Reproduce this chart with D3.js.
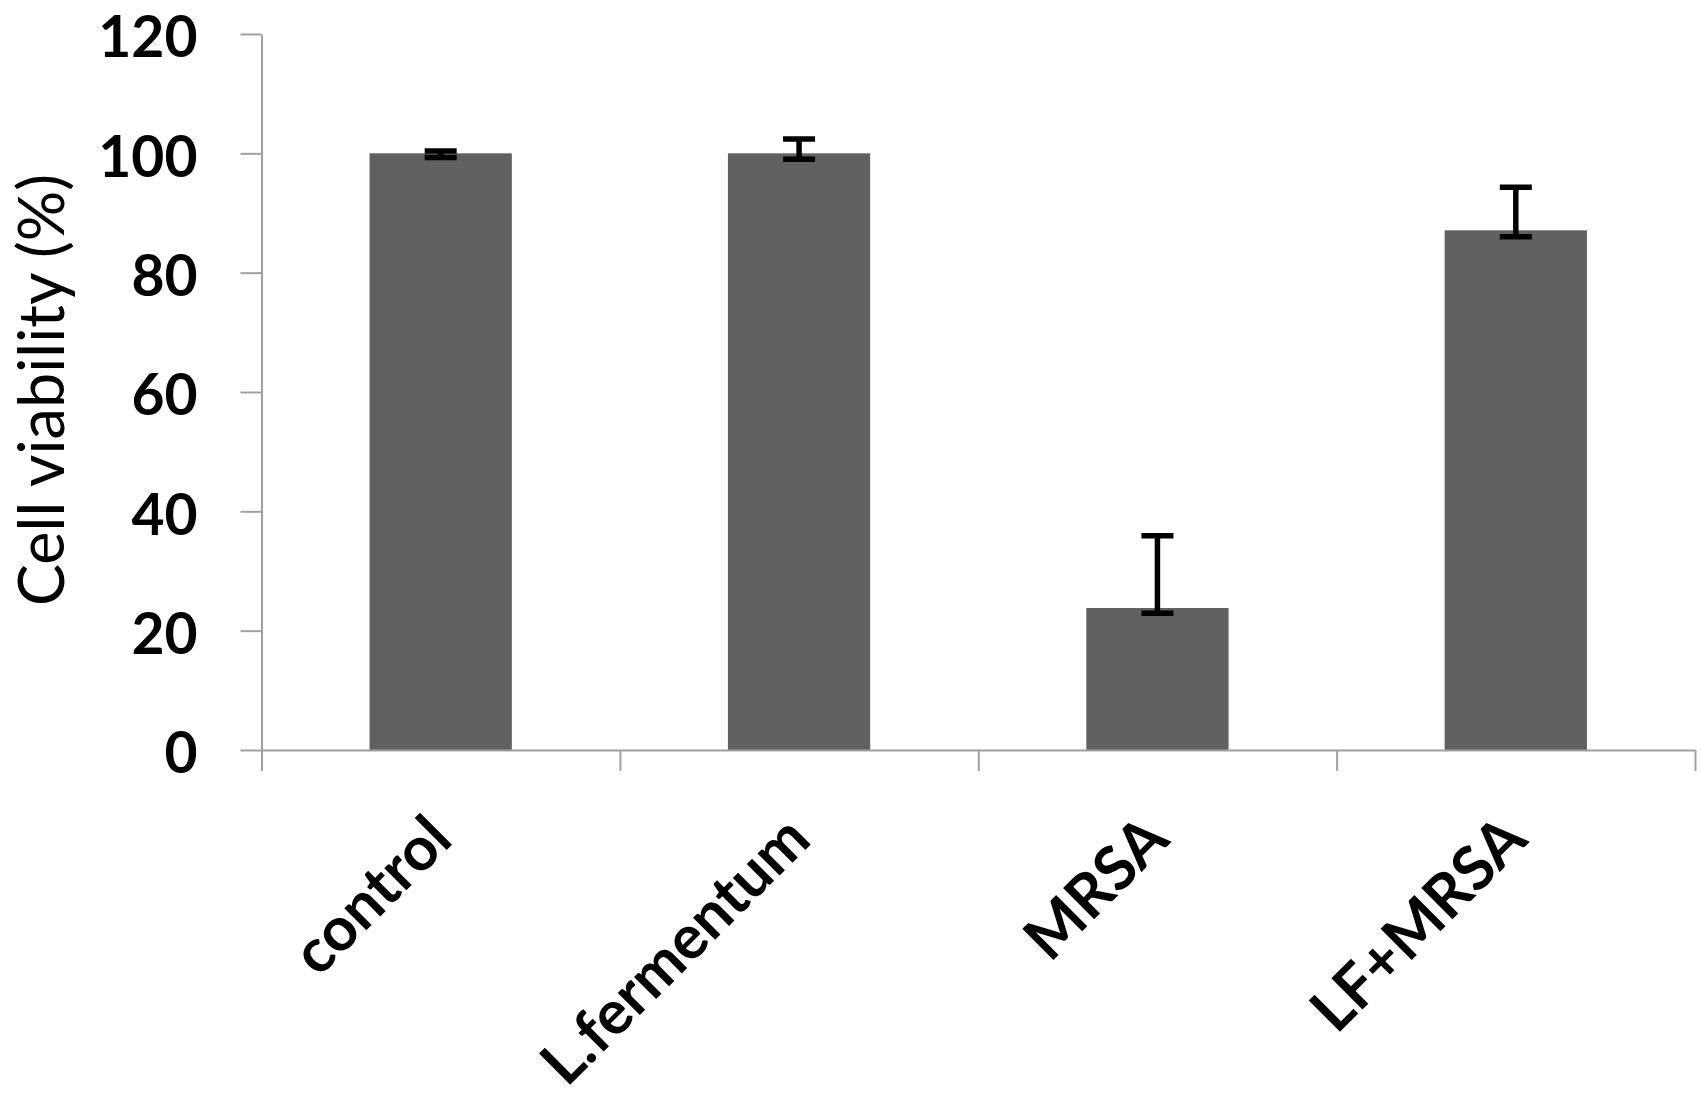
<!DOCTYPE html>
<html>
<head>
<meta charset="utf-8">
<script src="https://cdn.jsdelivr.net/npm/d3@7"></script>
<style>
  html, body { margin: 0; padding: 0; background: #ffffff; }
  svg { display: block; }
</style>
</head>
<body>
<svg id="chart" width="1701" height="1108"></svg>
<script>
// ---- data ----
const categories = ["control", "L.fermentum", "MRSA", "LF+MRSA"];
const viability = [100.0, 100.0, 23.8, 87.1];
const errUpper = [100.4, 102.4, 35.9, 94.3];
const errLower = [99.3, 99.0, 22.9, 86.0];
const yTicks = [0, 20, 40, 60, 80, 100, 120];
const yTitle = "Cell viability (%)";

// ---- layout ----
const W = 1701, H = 1108;
const mLeft = 261.5, mRight = 1695, mTop = 34, mBottom = 750;
const svg = d3.select("#chart");
svg.append("rect").attr("width", W).attr("height", H).attr("fill", "#ffffff");

const y = d3.scaleLinear().domain([0, 120]).range([mBottom, mTop]);
const x = d3.scaleBand().domain(categories).range([mLeft, mRight]).padding(0);
const xb = d3.scaleLinear().domain([0, categories.length]).range([mLeft, mRight]);

const axisColor = "#a0a0a0";
const tickFont = "Lato, 'Open Sans', sans-serif";

// bars
const barW = x.bandwidth() * 0.397;
svg.append("g").selectAll("rect").data(categories).join("rect")
  .attr("x", d => x(d) + x.bandwidth() / 2 - barW / 2)
  .attr("y", (d, i) => y(viability[i]))
  .attr("width", barW)
  .attr("height", (d, i) => y(0) - y(viability[i]))
  .attr("fill", "#616161");

// y axis
const gy = svg.append("g").attr("transform", `translate(${mLeft},0)`)
  .call(d3.axisLeft(y).tickValues(yTicks).tickSize(21).tickSizeOuter(0).tickPadding(43));
gy.select(".domain").attr("stroke", axisColor).attr("stroke-width", 2);
gy.selectAll(".tick line").attr("stroke", axisColor).attr("stroke-width", 2);
gy.selectAll(".tick text")
  .attr("font-family", tickFont).attr("font-weight", 700).attr("font-size", 57)
  .attr("fill", "#000").attr("dy", "0.40em");

// x axis (boundary ticks)
const gx = svg.append("g").attr("transform", `translate(0,${mBottom})`)
  .call(d3.axisBottom(xb).tickValues(d3.range(categories.length + 1)).tickSize(21).tickSizeOuter(0).tickFormat(""));
gx.select(".domain").attr("stroke", axisColor).attr("stroke-width", 2);
gx.selectAll(".tick line").attr("stroke", axisColor).attr("stroke-width", 2);

// x labels
svg.append("g").selectAll("text").data(categories).join("text")
  .attr("transform", d => `translate(${x(d) + x.bandwidth() / 2 + 14},842) rotate(-45)`)
  .attr("text-anchor", "end")
  .attr("font-family", tickFont).attr("font-weight", 700).attr("font-size", 61)
  .attr("fill", "#000")
  .text(d => d);

// error bars
const capW = 32;
const eg = svg.append("g").attr("stroke", "#000").attr("stroke-width", 5.5);
categories.forEach((c, i) => {
  const cx = x(c) + x.bandwidth() / 2;
  eg.append("line").attr("x1", cx).attr("x2", cx).attr("y1", y(errUpper[i])).attr("y2", y(errLower[i]));
  eg.append("line").attr("x1", cx - capW / 2).attr("x2", cx + capW / 2).attr("y1", y(errUpper[i])).attr("y2", y(errUpper[i]));
  eg.append("line").attr("x1", cx - capW / 2).attr("x2", cx + capW / 2).attr("y1", y(errLower[i])).attr("y2", y(errLower[i]));
});

// y title
svg.append("text")
  .attr("transform", "translate(64,390) rotate(-90)")
  .attr("text-anchor", "middle")
  .attr("font-family", tickFont).attr("font-weight", 400).attr("font-size", 63)
  .attr("fill", "#000")
  .text(yTitle);
</script>
</body>
</html>
